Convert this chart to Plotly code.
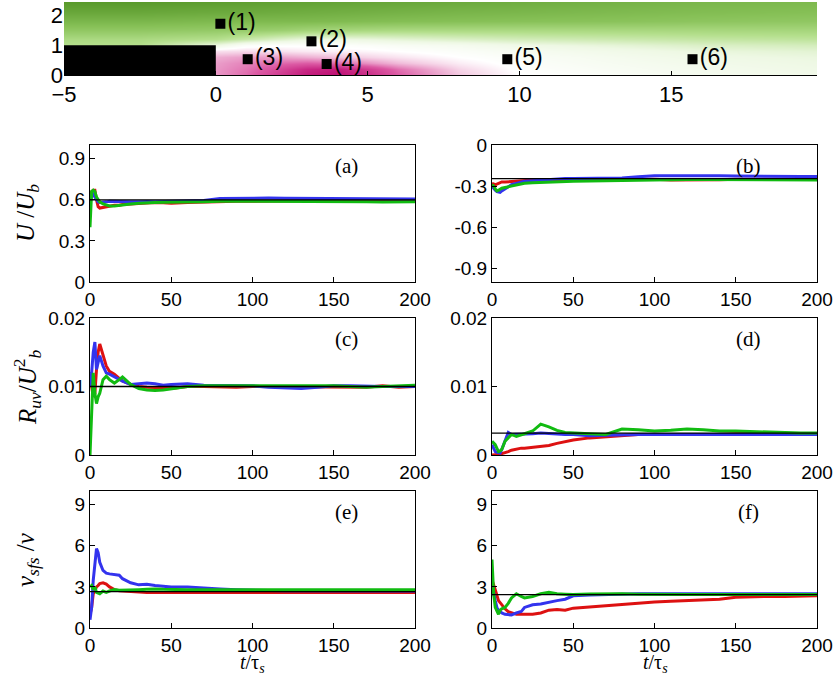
import plotly.graph_objects as go

# ---------------- top panel: mean streamwise velocity field ----------------
field_x = [-5, -2.5, 0, 1, 2, 3, 4, 5, 6, 8, 10, 13, 16, 20]
field_y = [0.0, 0.2, 0.4, 0.6, 0.8, 1.0, 1.2, 1.5, 1.8, 2.1, 2.45]
field_z = [
    [0, 0, -0.32, -0.45, -0.65, -0.85, -0.92, -0.75, -0.50, -0.18, 0.00, 0.06, 0.12, 0.16],
    [0, 0, -0.32, -0.42, -0.58, -0.78, -0.85, -0.66, -0.44, -0.14, 0.02, 0.08, 0.13, 0.18],
    [0, 0, -0.30, -0.38, -0.45, -0.50, -0.46, -0.34, -0.22, -0.06, 0.04, 0.10, 0.15, 0.20],
    [0, 0, -0.25, -0.30, -0.30, -0.25, -0.20, -0.14, -0.09, 0.00, 0.06, 0.12, 0.18, 0.22],
    [0, 0, -0.10, -0.12, -0.10, -0.07, -0.05, -0.03, 0.00, 0.05, 0.10, 0.16, 0.22, 0.26],
    [0.50, 0.50, 0.20, 0.05, 0.02, 0.02, 0.03, 0.05, 0.08, 0.12, 0.18, 0.24, 0.30, 0.34],
    [0.55, 0.55, 0.50, 0.40, 0.30, 0.22, 0.20, 0.22, 0.25, 0.30, 0.34, 0.38, 0.42, 0.45],
    [0.70, 0.70, 0.68, 0.66, 0.64, 0.60, 0.58, 0.56, 0.55, 0.55, 0.55, 0.56, 0.57, 0.58],
    [0.82, 0.82, 0.80, 0.80, 0.80, 0.80, 0.79, 0.78, 0.77, 0.76, 0.75, 0.74, 0.72, 0.70],
    [0.92, 0.92, 0.90, 0.90, 0.89, 0.88, 0.87, 0.86, 0.85, 0.83, 0.82, 0.80, 0.78, 0.76],
    [1.00, 1.00, 0.98, 0.97, 0.96, 0.95, 0.94, 0.93, 0.92, 0.90, 0.88, 0.85, 0.82, 0.80],
]
field_colors = [
    [0.0, "#b8006a"], [0.25, "#dc5aa4"], [0.42, "#f4cde3"], [0.5, "#ffffff"],
    [0.6, "#eef8e4"], [0.75, "#b4df8c"], [0.88, "#86c056"], [1.0, "#5a9a2c"],
]

# backward-facing step (solid block)
step_x = [-5, 0, 0, -5, -5]
step_y = [0, 0, 1, 1, 0]

# probe locations
probe_x = [0.15, 3.15, 1.05, 3.65, 9.6, 15.7]
probe_y = [1.72, 1.13, 0.53, 0.37, 0.53, 0.53]
probe_labels = ["(1)", "(2)", "(3)", "(4)", "(5)", "(6)"]

# ---------------- time histories of running averages ----------------
t = [0, 1, 2, 3, 4, 5, 6, 8, 10, 12, 15, 18, 20, 25, 30, 35, 40, 45, 50,
     60, 70, 80, 90, 100, 110, 120, 130, 140, 150, 160, 170, 180, 190, 200]

# (a) U/Ub, left probe
a_red = [0.62, 0.66, 0.67, 0.67, 0.60, 0.55, 0.54, 0.545, 0.55, 0.555, 0.56, 0.56, 0.565, 0.57, 0.575, 0.58, 0.58, 0.578, 0.575,
         0.58, 0.585, 0.588, 0.59, 0.59, 0.592, 0.592, 0.593, 0.594, 0.595, 0.595, 0.596, 0.596, 0.597, 0.597]
a_blue = [0.60, 0.62, 0.64, 0.62, 0.60, 0.585, 0.58, 0.58, 0.585, 0.59, 0.588, 0.585, 0.585, 0.585, 0.585, 0.588, 0.585, 0.586, 0.586,
          0.588, 0.595, 0.61, 0.612, 0.612, 0.613, 0.612, 0.611, 0.608, 0.607, 0.606, 0.606, 0.605, 0.605, 0.605]
a_green = [0.40, 0.66, 0.67, 0.66, 0.62, 0.60, 0.585, 0.57, 0.56, 0.555, 0.555, 0.56, 0.565, 0.57, 0.575, 0.58, 0.58, 0.582, 0.582,
           0.582, 0.585, 0.59, 0.59, 0.59, 0.59, 0.59, 0.589, 0.588, 0.587, 0.585, 0.585, 0.584, 0.585, 0.585]
a_ref = 0.60

# (b) U/Ub, right probe
b_red = [-0.28, -0.285, -0.29, -0.285, -0.28, -0.275, -0.27, -0.27, -0.268, -0.265, -0.262, -0.26, -0.258, -0.256, -0.255, -0.256, -0.255, -0.255, -0.254,
         -0.255, -0.254, -0.252, -0.25, -0.25, -0.255, -0.256, -0.255, -0.254, -0.25, -0.25, -0.25, -0.25, -0.25, -0.25]
b_blue = [-0.30, -0.32, -0.33, -0.34, -0.345, -0.345, -0.335, -0.32, -0.305, -0.29, -0.28, -0.27, -0.265, -0.26, -0.255, -0.252, -0.25, -0.245, -0.245,
          -0.244, -0.243, -0.24, -0.232, -0.225, -0.224, -0.226, -0.226, -0.225, -0.226, -0.228, -0.228, -0.23, -0.23, -0.23]
b_green = [-0.29, -0.30, -0.32, -0.335, -0.33, -0.32, -0.315, -0.31, -0.305, -0.30, -0.29, -0.283, -0.28, -0.275, -0.272, -0.27, -0.268, -0.266, -0.265,
           -0.262, -0.26, -0.256, -0.254, -0.253, -0.252, -0.252, -0.252, -0.253, -0.253, -0.254, -0.255, -0.255, -0.255, -0.255]
b_ref = -0.245

# (c) Ruv/Ub^2, left probe
c_red = [0.011, 0.010, 0.0085, 0.0090, 0.0125, 0.0150, 0.0162, 0.0145, 0.0130, 0.0122, 0.0118, 0.0112, 0.0108, 0.0103, 0.0100, 0.0099, 0.0099, 0.0098, 0.0097,
         0.0100, 0.0100, 0.0099, 0.0099, 0.0100, 0.0100, 0.0100, 0.0099, 0.0099, 0.0100, 0.0100, 0.0099, 0.0101, 0.0099, 0.0100]
c_blue = [0.0100, 0.0120, 0.0150, 0.0165, 0.0125, 0.0135, 0.0145, 0.0130, 0.0120, 0.0118, 0.0114, 0.0110, 0.0108, 0.0103, 0.0104, 0.0105, 0.0104, 0.0102, 0.0103,
          0.0104, 0.0102, 0.0102, 0.0101, 0.0101, 0.0099, 0.0098, 0.0097, 0.0099, 0.0101, 0.0101, 0.0100, 0.0100, 0.0100, 0.0100]
c_green = [0.0000, 0.0050, 0.0120, 0.0090, 0.0075, 0.0085, 0.0090, 0.0110, 0.0115, 0.0110, 0.0105, 0.0110, 0.0114, 0.0103, 0.0097, 0.0095, 0.0094, 0.0095, 0.0097,
           0.0100, 0.0101, 0.0101, 0.0102, 0.0102, 0.0101, 0.0102, 0.0102, 0.0101, 0.0101, 0.0100, 0.0099, 0.0100, 0.0101, 0.0102]
c_ref = 0.0100

# (d) Ruv/Ub^2, right probe
d_red = [0.0000, 0.0000, 0.0000, 0.0000, 0.0001, 0.0001, 0.0002, 0.0003, 0.0005, 0.0007, 0.0009, 0.0010, 0.0010, 0.0011, 0.0012, 0.0014, 0.0017, 0.0020, 0.0022,
         0.0025, 0.0027, 0.0028, 0.0030, 0.0030, 0.0030, 0.0029, 0.0029, 0.0030, 0.0031, 0.0031, 0.0031, 0.0031, 0.0031, 0.0031]
d_blue = [0.0015, 0.0010, 0.0005, 0.0004, 0.0003, 0.0003, 0.0008, 0.0022, 0.0033, 0.0030, 0.0030, 0.0031, 0.0030, 0.0031, 0.0032, 0.0031, 0.0030, 0.0030, 0.0030,
          0.0028, 0.0029, 0.0030, 0.0030, 0.0030, 0.0030, 0.0030, 0.0030, 0.0030, 0.0030, 0.0030, 0.0030, 0.0030, 0.0030, 0.0030]
d_green = [0.0020, 0.0018, 0.0015, 0.0010, 0.0005, 0.0006, 0.0008, 0.0020, 0.0025, 0.0030, 0.0027, 0.0030, 0.0031, 0.0035, 0.0045, 0.0041, 0.0036, 0.0033, 0.0032,
           0.0031, 0.0030, 0.0038, 0.0037, 0.0035, 0.0036, 0.0038, 0.0037, 0.0035, 0.0035, 0.0034, 0.0033, 0.0032, 0.0032, 0.0032]
d_ref = 0.0032

# (e) nu_sfs/nu, left probe
e_red = [1.0, 1.5, 2.5, 2.8, 3.0, 3.1, 3.25, 3.3, 3.2, 3.0, 2.8, 2.72, 2.7, 2.65, 2.6, 2.6, 2.6, 2.6, 2.6,
         2.6, 2.58, 2.56, 2.55, 2.55, 2.56, 2.57, 2.58, 2.58, 2.6, 2.6, 2.6, 2.6, 2.6, 2.6]
e_blue = [0.6, 1.5, 3.5, 5.0, 5.8, 5.5, 4.8, 4.2, 4.0, 3.95, 3.9, 3.85, 3.6, 3.3, 3.15, 3.2, 3.1, 3.05, 3.0,
          3.0, 2.9, 2.85, 2.8, 2.75, 2.73, 2.72, 2.71, 2.7, 2.7, 2.7, 2.7, 2.7, 2.7, 2.7]
e_green = [3.0, 3.1, 2.8, 3.0, 2.6, 2.55, 2.5, 2.7, 2.6, 2.7, 2.8, 2.75, 2.75, 2.78, 2.8, 2.82, 2.85, 2.82, 2.8,
           2.8, 2.8, 2.8, 2.8, 2.8, 2.79, 2.78, 2.77, 2.76, 2.75, 2.76, 2.77, 2.78, 2.8, 2.8]
e_ref = 2.65

# (f) nu_sfs/nu, right probe
f_red = [3.5, 3.2, 2.8, 2.4, 2.0, 1.85, 1.7, 1.4, 1.2, 1.1, 1.0, 1.0, 1.0, 1.0, 1.1, 1.3, 1.35, 1.3, 1.45,
         1.55, 1.6, 1.7, 1.8, 1.9, 1.95, 2.0, 2.05, 2.1, 2.25, 2.3, 2.3, 2.3, 2.32, 2.35]
f_blue = [3.0, 2.6, 2.0, 1.5, 1.3, 1.2, 1.1, 1.0, 0.95, 0.95, 1.1, 1.2, 1.5, 1.7, 1.75, 1.9, 2.0, 2.1, 2.35,
          2.4, 2.45, 2.5, 2.5, 2.5, 2.5, 2.5, 2.5, 2.5, 2.5, 2.5, 2.5, 2.5, 2.5, 2.5]
f_green = [5.0, 2.5, 1.5, 1.2, 1.0, 1.3, 1.4, 1.5, 1.8, 2.2, 2.5, 2.3, 2.2, 2.3, 2.5, 2.6, 2.5, 2.47, 2.45,
           2.48, 2.5, 2.5, 2.47, 2.45, 2.45, 2.45, 2.45, 2.45, 2.45, 2.45, 2.45, 2.45, 2.45, 2.45]
f_ref = 2.43

RED, BLUE, GREEN = "#dd1111", "#3333ee", "#11bb11"

panels = [
    # (series, reference value, y range, y ticks, tick text, tag)
    ((a_red, a_blue, a_green), a_ref, [0, 1.0], [0, 0.3, 0.6, 0.9], ["0", "0.3", "0.6", "0.9"], "(a)"),
    ((b_red, b_blue, b_green), b_ref, [-1.0, 0], [0, -0.3, -0.6, -0.9], ["0", "-0.3", "-0.6", "-0.9"], "(b)"),
    ((c_red, c_blue, c_green), c_ref, [0, 0.02], [0, 0.01, 0.02], ["0", "0.01", "0.02"], "(c)"),
    ((d_red, d_blue, d_green), d_ref, [0, 0.02], [0, 0.01, 0.02], ["0", "0.01", "0.02"], "(d)"),
    ((e_red, e_blue, e_green), e_ref, [0, 10], [0, 3, 6, 9], ["0", "3", "6", "9"], "(e)"),
    ((f_red, f_blue, f_green), f_ref, [0, 10], [0, 3, 6, 9], ["0", "3", "6", "9"], "(f)"),
]

W, H = 836, 676
col_px = [(90, 415), (492, 817)]
row_px = [(145, 282), (318, 455), (491, 628)]


def xdom(px):
    return [px[0] / W, px[1] / W]


def ydom(px):
    return [1 - px[1] / H, 1 - px[0] / H]


SANS = "Liberation Sans"
SERIF = "Liberation Serif"

fig = go.Figure()
tick_font = dict(family=SANS, size=19, color="black")

# ---- top field ----
fig.add_trace(go.Heatmap(x=field_x, y=field_y, z=field_z, colorscale=field_colors,
                         zmin=-1, zmax=1, zsmooth="best", showscale=False,
                         hoverinfo="skip", xaxis="x", yaxis="y"))
fig.add_trace(go.Scatter(x=step_x, y=step_y, fill="toself", fillcolor="black",
                         line=dict(color="black", width=0), mode="lines",
                         hoverinfo="skip", xaxis="x", yaxis="y"))
fig.add_trace(go.Scatter(x=probe_x, y=probe_y, mode="markers+text", text=probe_labels,
                         textposition="middle right",
                         textfont=dict(family=SANS, size=23, color="black"),
                         marker=dict(symbol="square", size=10, color="black"),
                         hoverinfo="skip", xaxis="x", yaxis="y"))

layout = dict(
    width=W, height=H, margin=dict(l=0, r=0, t=0, b=0, autoexpand=False),
    paper_bgcolor="white", plot_bgcolor="white", showlegend=False,
    xaxis=dict(domain=xdom((64, 817)), range=[-5, 19.8], tickvals=[-5, 0, 5, 10, 15],
               ticks="inside", ticklen=4, tickcolor="black", showline=True, linecolor="black",
               linewidth=1, showgrid=False, zeroline=False, automargin=False,
               tickfont=dict(family=SANS, size=22, color="black"), anchor="y"),
    yaxis=dict(domain=ydom((2, 75)), range=[0, 2.45], tickvals=[0, 1, 2],
               ticks="", showline=False, showgrid=False, zeroline=False, automargin=False,
               tickfont=dict(family=SANS, size=22, color="black"), anchor="x"),
)

annotations = []
for i, (series, ref, yr, tv, tt, tag) in enumerate(panels):
    r, c = divmod(i, 2)
    n = i + 2
    xa, ya = f"x{n}", f"y{n}"
    for vals, colr in zip(series, (RED, BLUE, GREEN)):
        fig.add_trace(go.Scatter(x=t, y=vals, mode="lines", line=dict(color=colr, width=3),
                                 hoverinfo="skip", xaxis=xa, yaxis=ya))
    fig.add_trace(go.Scatter(x=[t[0], t[-1]], y=[ref, ref], mode="lines",
                             line=dict(color="black", width=1.3), hoverinfo="skip",
                             xaxis=xa, yaxis=ya))
    layout[f"xaxis{n}"] = dict(domain=xdom(col_px[c]), range=[0, 200],
                               tickvals=[0, 50, 100, 150, 200], ticks="inside", ticklen=5,
                               tickcolor="black", showline=True, mirror=True, linecolor="black",
                               linewidth=1, showgrid=False, zeroline=False, tickfont=tick_font,
                               automargin=False, anchor=ya)
    layout[f"yaxis{n}"] = dict(domain=ydom(row_px[r]), range=yr, tickvals=tv, ticktext=tt,
                               ticks="inside", ticklen=5, tickcolor="black", showline=True,
                               mirror=True, linecolor="black", linewidth=1, showgrid=False,
                               zeroline=False, tickfont=tick_font, automargin=False, anchor=xa)
    x0, x1 = col_px[c]
    y0, y1 = row_px[r]
    annotations.append(dict(text=tag, xref="paper", yref="paper",
                            x=(x0 + 0.79 * (x1 - x0)) / W, y=1 - (y0 + 0.15 * (y1 - y0)) / H,
                            showarrow=False, xanchor="center", yanchor="middle",
                            font=dict(family=SERIF, size=21, color="black")))

y_titles = [
    ("<i>U</i> /<i>U</i><sub><i>b</i></sub>", 213),
    ("<i>R</i><sub><i>uv</i></sub>/<i>U</i><sup>2</sup><sub><i>b</i></sub>", 387),
    ("<i>ν</i><sub><i>sfs</i></sub> /<i>ν</i>", 560),
]
for txt, ypx in y_titles:
    annotations.append(dict(text=txt, xref="paper", yref="paper", x=27 / W, y=1 - ypx / H,
                            showarrow=False, textangle=-90, xanchor="center", yanchor="middle",
                            font=dict(family=SERIF, size=25, color="black")))
for xpx in (252, 655):
    annotations.append(dict(text="<i>t</i>/τ<sub><i>s</i></sub>", xref="paper", yref="paper",
                            x=xpx / W, y=1 - 663 / H, showarrow=False, xanchor="center",
                            yanchor="middle", font=dict(family=SERIF, size=20, color="black")))

layout["annotations"] = annotations
fig.update_layout(**layout)
fig.write_html("out.html")
